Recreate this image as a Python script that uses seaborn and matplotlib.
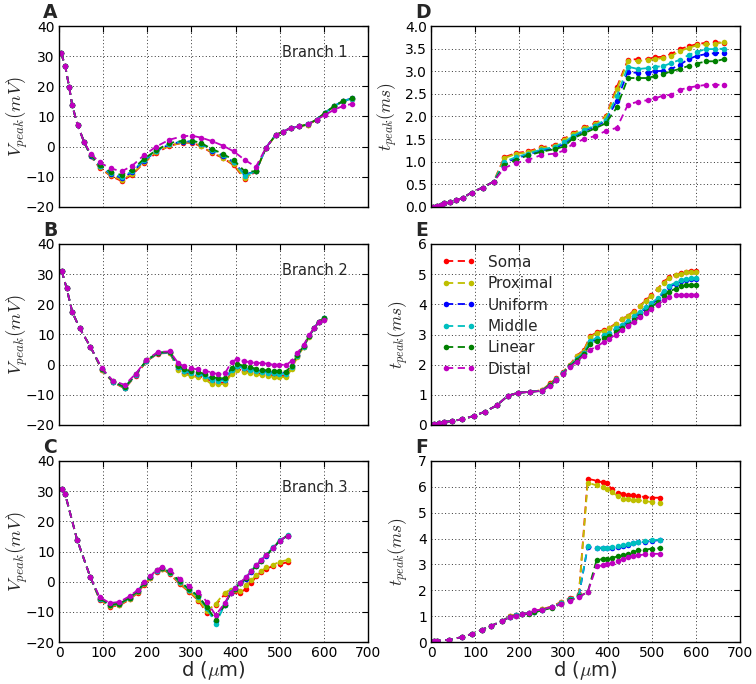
import pandas as pd
import matplotlib
matplotlib.use("Agg")
import matplotlib.pyplot as plt
import seaborn as sns

# ---------------- data ----------------
series_names = ["Soma", "Proximal", "Uniform", "Middle", "Linear", "Distal"]
series_colors = ["#ff0000", "#bfbf00", "#0000ff", "#00bfbf", "#008000", "#bf00bf"]

# Branch 1 (panels A, D)
b1_x = [5, 14, 23, 30, 42, 57, 72, 92, 117, 142, 166, 192, 220, 250, 281, 302, 322,
        347, 372, 396, 421, 446, 469, 491, 508, 525, 544, 563, 584, 602, 624, 644, 664]
a_head = [30.9, 26.8, 19.8, 13.7, 7.2, 1.5]
a_soma = a_head + [-3.2, -7.0, -9.7, -11.4, -9.3, -5.4, -2.1, 0.3, 1.3, 1.3, 0.1, -2.1, -3.8, -6.2, -10.8, -8.2, -0.4, 3.8, 5.0, 6.1, 6.7, 7.3, 8.9, 11.1, 13.4, 15.1, 15.8]
a_prox = a_head + [-3.1, -6.8, -9.5, -11.0, -9.0, -5.2, -1.9, 0.4, 1.4, 1.4, 0.3, -1.9, -3.6, -5.9, -10.4, -8.2, -0.4, 3.8, 5.0, 6.1, 6.7, 7.3, 8.9, 11.1, 13.4, 15.1, 15.8]
a_unif = a_head + [-3.0, -6.5, -9.0, -10.4, -8.4, -4.7, -1.6, 0.8, 1.7, 1.7, 0.8, -1.3, -3.0, -5.2, -9.2, -8.2, -0.3, 3.9, 5.0, 6.2, 6.7, 7.4, 9.0, 11.2, 13.5, 15.2, 16.0]
a_midd = a_head + [-2.9, -6.3, -8.8, -10.0, -8.1, -4.5, -1.5, 1.0, 1.8, 1.8, 0.9, -1.1, -2.8, -5.0, -9.6, -8.2, -0.3, 3.9, 5.0, 6.2, 6.7, 7.4, 9.0, 11.2, 13.5, 15.2, 15.9]
a_line = a_head + [-2.8, -6.0, -8.4, -9.4, -7.6, -4.1, -1.2, 1.2, 2.0, 2.0, 1.2, -0.8, -2.4, -4.5, -8.2, -8.2, -0.3, 3.9, 5.0, 6.2, 6.7, 7.4, 9.0, 11.2, 13.5, 15.2, 16.0]
a_dist = a_head + [-2.4, -5.2, -7.2, -8.2, -6.3, -2.9, 0.0, 2.3, 3.5, 3.6, 3.0, 1.8, 0.3, -1.6, -4.4, -6.7, -0.3, 3.9, 5.0, 6.2, 6.7, 7.4, 8.9, 10.5, 12.3, 13.5, 14.2]

d_head = [0.01, 0.03, 0.05, 0.08, 0.10, 0.15, 0.20, 0.32, 0.43, 0.56]
d_soma = d_head + [1.10, 1.19, 1.23, 1.32, 1.37, 1.51, 1.63, 1.76, 1.85, 2.00, 2.65, 3.25, 3.27, 3.27, 3.31, 3.32, 3.38, 3.49, 3.55, 3.60, 3.63, 3.64, 3.63]
d_prox = d_head + [1.08, 1.17, 1.21, 1.30, 1.35, 1.49, 1.61, 1.74, 1.83, 1.98, 2.60, 3.22, 3.23, 3.24, 3.27, 3.29, 3.34, 3.44, 3.52, 3.57, 3.60, 3.60, 3.65]
d_unif = d_head + [0.98, 1.07, 1.16, 1.25, 1.30, 1.40, 1.55, 1.68, 1.78, 1.90, 2.35, 2.99, 2.96, 2.97, 3.00, 3.01, 3.05, 3.14, 3.27, 3.34, 3.38, 3.40, 3.41]
d_midd = d_head + [1.00, 1.10, 1.18, 1.27, 1.33, 1.43, 1.57, 1.70, 1.80, 1.93, 2.45, 3.10, 3.05, 3.07, 3.10, 3.11, 3.18, 3.25, 3.36, 3.43, 3.49, 3.49, 3.50]
d_line = d_head + [0.92, 1.04, 1.14, 1.22, 1.28, 1.34, 1.52, 1.63, 1.74, 1.85, 2.20, 2.85, 2.85, 2.85, 2.90, 2.93, 3.00, 3.05, 3.12, 3.17, 3.22, 3.22, 3.27]
d_dist = d_head + [0.86, 0.97, 1.04, 1.15, 1.18, 1.25, 1.40, 1.50, 1.57, 1.68, 1.75, 2.26, 2.33, 2.36, 2.40, 2.46, 2.48, 2.59, 2.64, 2.67, 2.70, 2.70, 2.70]

# Branch 2 (panels B, E)
b2_x = [6, 17, 30, 47, 71, 97, 122, 149, 174, 198, 224, 251, 270, 284, 298, 315, 330, 346, 361,
        376, 391, 404, 418, 433, 446, 459, 473, 486, 499, 514, 527, 540, 554, 567, 578, 588, 600]
b_head = [31.1, 25.5, 17.5, 12.0, 6.0]
b_soma = b_head + [-1.8, -5.8, -7.9, -3.6, 1.1, 3.7, 3.9, -1.5, -2.7, -3.3, -3.8, -4.3, -5.6, -6.0, -6.0, -2.6, -1.4, -2.0, -2.4, -2.8, -3.1, -3.4, -3.6, -3.7, -3.8, -1.2, 2.8, 5.9, 9.4, 12.0, 14.0, 15.3]
b_prox = b_head + [-1.7, -5.7, -7.8, -3.5, 1.2, 3.8, 4.0, -1.8, -3.1, -3.7, -4.2, -4.8, -6.5, -6.5, -6.4, -3.0, -1.8, -2.4, -2.8, -3.2, -3.5, -3.8, -4.0, -4.1, -4.2, -1.5, 2.6, 5.8, 9.3, 12.0, 14.0, 15.3]
b_unif = b_head + [-1.5, -5.6, -7.6, -3.3, 1.3, 3.9, 4.1, -0.8, -2.0, -2.5, -3.0, -3.5, -4.8, -5.1, -5.0, -1.6, -0.3, -1.0, -1.4, -1.8, -2.1, -2.4, -2.6, -2.7, -2.8, -0.6, 3.1, 6.1, 9.5, 12.1, 14.1, 15.4]
b_midd = b_head + [-1.5, -5.6, -7.6, -3.3, 1.3, 3.9, 4.1, -0.9, -2.2, -2.8, -3.2, -3.8, -5.1, -5.4, -5.2, -1.8, -0.5, -1.2, -1.7, -2.1, -2.4, -2.7, -2.9, -3.0, -3.1, -0.7, 3.0, 6.0, 9.5, 12.1, 14.1, 15.4]
b_line = b_head + [-1.4, -5.5, -7.5, -3.2, 1.4, 4.0, 4.2, -0.3, -1.5, -2.0, -2.5, -3.0, -4.2, -4.5, -4.5, -1.0, 0.3, -0.4, -0.9, -1.3, -1.7, -1.9, -2.1, -2.2, -2.3, -0.3, 3.2, 6.2, 9.6, 12.2, 14.2, 15.5]
b_dist = b_head + [-1.2, -5.3, -6.7, -3.0, 1.6, 4.2, 4.4, 0.5, -0.6, -1.2, -1.6, -2.0, -2.6, -3.2, -2.9, 1.0, 1.8, 1.2, 0.8, 0.6, 0.5, 0.3, 0.0, 0.0, -0.1, 1.2, 3.9, 6.5, 9.8, 12.2, 14.0, 14.8]

e_head = [0.02, 0.05, 0.10, 0.13, 0.19, 0.30, 0.44, 0.65, 0.97, 1.07, 1.10]
e_soma = e_head + [1.15, 1.38, 1.55, 1.75, 2.00, 2.30, 2.48, 2.95, 3.07, 3.15, 3.22, 3.36, 3.52, 3.62, 3.78, 3.95, 4.13, 4.30, 4.52, 4.75, 4.90, 4.98, 5.04, 5.08, 5.10, 5.10]
e_prox = e_head + [1.15, 1.37, 1.54, 1.74, 1.98, 2.28, 2.45, 2.92, 3.05, 3.12, 3.20, 3.34, 3.50, 3.60, 3.76, 3.93, 4.11, 4.28, 4.50, 4.72, 4.87, 4.96, 5.02, 5.06, 5.08, 5.08]
e_unif = e_head + [1.14, 1.33, 1.50, 1.71, 1.96, 2.18, 2.38, 2.74, 2.86, 2.94, 3.01, 3.16, 3.29, 3.41, 3.56, 3.71, 3.86, 4.01, 4.16, 4.41, 4.58, 4.68, 4.76, 4.81, 4.83, 4.83]
e_midd = e_head + [1.14, 1.34, 1.51, 1.72, 1.97, 2.20, 2.40, 2.78, 2.90, 2.98, 3.05, 3.20, 3.33, 3.45, 3.60, 3.75, 3.90, 4.05, 4.20, 4.45, 4.62, 4.72, 4.80, 4.85, 4.87, 4.87]
e_line = e_head + [1.13, 1.33, 1.50, 1.70, 1.95, 2.15, 2.36, 2.68, 2.78, 2.88, 2.95, 3.08, 3.20, 3.32, 3.47, 3.60, 3.75, 3.90, 4.08, 4.28, 4.42, 4.52, 4.60, 4.63, 4.65, 4.65]
e_dist = e_head + [1.13, 1.30, 1.48, 1.68, 1.93, 2.10, 2.30, 2.50, 2.60, 2.75, 2.85, 3.00, 3.15, 3.28, 3.43, 3.58, 3.70, 3.85, 3.99, 4.15, 4.23, 4.30, 4.32, 4.32, 4.32, 4.32]

# Branch 3 (panels C, F)
b3_x = [6, 14, 41, 71, 92, 115, 137, 160, 179, 192, 207, 221, 234, 251, 273, 295, 316, 335,
        355, 375, 389, 399, 410, 424, 436, 447, 458, 470, 485, 500, 518]
c_head = [30.8, 29.0, 13.9, 1.5]
c_soma = c_head + [-6.0, -8.3, -7.9, -5.9, -3.6, -1.1, 1.1, 3.3, 4.2, 2.6, -0.7, -3.4, -6.3, -10.3, -7.8, -4.2, -3.0, -3.2, -3.7, -2.3, -0.4, 1.8, 3.3, 4.3, 5.2, 5.9, 6.4]
c_prox = c_head + [-5.9, -8.1, -7.7, -5.7, -3.4, -0.9, 1.3, 3.5, 4.3, 2.8, -0.5, -3.2, -6.0, -9.8, -7.3, -3.7, -2.6, -2.8, -3.0, -1.2, 0.5, 2.2, 3.6, 4.7, 5.6, 6.6, 7.2]
c_unif = c_head + [-5.6, -7.7, -7.4, -5.4, -3.1, -0.6, 1.5, 3.7, 4.5, 3.1, 0.0, -2.6, -4.9, -8.6, -13.0, -7.6, -3.7, -2.4, -0.6, 1.0, 3.3, 5.2, 6.9, 8.6, 11.1, 13.5, 15.3]
c_midd = c_head + [-5.6, -7.7, -7.4, -5.4, -3.1, -0.6, 1.5, 3.7, 4.5, 3.0, -0.1, -2.7, -5.0, -8.8, -13.9, -7.8, -3.5, -2.2, -0.4, 1.4, 3.7, 5.5, 7.3, 9.0, 11.4, 13.8, 15.4]
c_line = c_head + [-5.5, -7.6, -7.3, -5.3, -3.0, -0.5, 1.6, 3.8, 4.6, 3.2, 0.2, -2.5, -4.8, -8.5, -12.6, -7.8, -3.8, -2.4, -0.5, 1.2, 3.5, 5.3, 7.0, 8.7, 11.2, 13.6, 15.3]
c_dist = c_head + [-5.1, -7.1, -6.7, -4.8, -2.7, -0.1, 1.8, 4.0, 4.9, 3.8, 1.0, -1.4, -3.4, -6.7, -11.1, -7.2, -3.6, -2.2, -0.3, 1.5, 3.6, 5.4, 7.1, 8.8, 11.2, 13.6, 15.3]

f_head = [0.02, 0.04, 0.09, 0.19, 0.31, 0.47, 0.63, 0.80]
f_soma = f_head + [1.00, 1.05, 1.10, 1.13, 1.20, 1.27, 1.37, 1.55, 1.70, 1.85, 6.31, 6.24, 6.17, 6.13, 5.90, 5.77, 5.73, 5.69, 5.67, 5.63, 5.61, 5.58, 5.58]
f_prox = f_head + [0.99, 1.04, 1.09, 1.12, 1.19, 1.26, 1.36, 1.53, 1.68, 1.83, 6.16, 6.06, 5.99, 5.93, 5.80, 5.63, 5.54, 5.52, 5.50, 5.48, 5.45, 5.41, 5.39]
f_unif = f_head + [0.98, 1.03, 1.08, 1.11, 1.17, 1.24, 1.34, 1.50, 1.65, 1.79, 3.68, 3.63, 3.63, 3.63, 3.65, 3.68, 3.72, 3.76, 3.81, 3.85, 3.87, 3.91, 3.94]
f_midd = f_head + [0.98, 1.03, 1.08, 1.11, 1.17, 1.24, 1.34, 1.50, 1.65, 1.80, 3.70, 3.65, 3.65, 3.65, 3.67, 3.70, 3.74, 3.78, 3.83, 3.87, 3.89, 3.93, 3.96]
f_line = f_head + [0.97, 1.02, 1.07, 1.10, 1.15, 1.22, 1.32, 1.47, 1.62, 1.76, 1.93, 3.16, 3.21, 3.21, 3.26, 3.31, 3.35, 3.41, 3.48, 3.54, 3.57, 3.61, 3.63]
f_dist = f_head + [0.96, 1.02, 1.08, 1.12, 1.22, 1.25, 1.35, 1.46, 1.60, 1.74, 1.93, 2.93, 2.96, 3.00, 3.05, 3.13, 3.22, 3.29, 3.32, 3.35, 3.39, 3.41, 3.41]

x_ticks = [0, 100, 200, 300, 400, 500, 600, 700]

# ---------------- style ----------------
sns.set_style("white")
plt.rcParams["font.family"] = ["DejaVu Sans"]
plt.rcParams["mathtext.fontset"] = "cm"
plt.rcParams["xtick.direction"] = "in"
plt.rcParams["ytick.direction"] = "in"


def long_frame(x, values):
    frames = []
    for name, vals in zip(series_names, values):
        frames.append(pd.DataFrame({"d": x, "val": vals, "series": name}))
    return pd.concat(frames, ignore_index=True)


fig = plt.figure(figsize=(7.56, 6.84), dpi=100)
W, H = 756.0, 684.0
col_left = [59, 431]
row_top = [26, 244, 461]
ax_w, ax_h = 309, 181

panels = [
    ("A", 0, 0, b1_x, [a_soma, a_prox, a_unif, a_midd, a_line, a_dist], "V", "Branch 1"),
    ("B", 0, 1, b2_x, [b_soma, b_prox, b_unif, b_midd, b_line, b_dist], "V", "Branch 2"),
    ("C", 0, 2, b3_x, [c_soma, c_prox, c_unif, c_midd, c_line, c_dist], "V", "Branch 3"),
    ("D", 1, 0, b1_x, [d_soma, d_prox, d_unif, d_midd, d_line, d_dist], "T4", None),
    ("E", 1, 1, b2_x, [e_soma, e_prox, e_unif, e_midd, e_line, e_dist], "T6", None),
    ("F", 1, 2, b3_x, [f_soma, f_prox, f_unif, f_midd, f_line, f_dist], "T7", None),
]

palette = dict(zip(series_names, series_colors))

for letter, col, row, x, vals, kind, branch in panels:
    left = col_left[col] / W
    bottom = 1 - (row_top[row] + ax_h) / H
    ax = fig.add_axes([left, bottom, ax_w / W, ax_h / H])
    df = long_frame(x, vals)
    sns.lineplot(data=df, x="d", y="val", hue="series", hue_order=series_names,
                 palette=palette, marker="o", markersize=4, markeredgewidth=0,
                 linestyle=(0, (4, 2.5)), linewidth=1.3, errorbar=None,
                 legend=False, ax=ax)
    ax.set_xlim(0, 700)
    ax.set_xticks(x_ticks)
    if kind == "V":
        ax.set_ylim(-20, 40)
        ax.set_yticks([-20, -10, 0, 10, 20, 30, 40])
        ax.set_ylabel(r"$V_{peak}(mV)$", fontsize=13.5)
        ax.yaxis.set_label_coords(-0.095, 0.5)
    elif kind == "T4":
        ax.set_ylim(0, 4)
        ax.set_yticks([0.0, 0.5, 1.0, 1.5, 2.0, 2.5, 3.0, 3.5, 4.0])
        ax.set_ylabel(r"$t_{peak}(ms)$", fontsize=12.5)
        ax.yaxis.set_label_coords(-0.10, 0.5)
    elif kind == "T6":
        ax.set_ylim(0, 6)
        ax.set_yticks([0, 1, 2, 3, 4, 5, 6])
        ax.set_ylabel(r"$t_{peak}(ms)$", fontsize=12.5)
        ax.yaxis.set_label_coords(-0.065, 0.5)
    else:
        ax.set_ylim(0, 7)
        ax.set_yticks([0, 1, 2, 3, 4, 5, 6, 7])
        ax.set_ylabel(r"$t_{peak}(ms)$", fontsize=12.5)
        ax.yaxis.set_label_coords(-0.065, 0.5)
    if row == 2:
        ax.set_xlabel(r"d ($\mu$m)", fontsize=14, labelpad=-1)
    else:
        ax.set_xlabel("")
        ax.set_xticklabels([])
    ax.grid(True, linestyle=(0, (1, 2.5)), color="0.2", linewidth=0.7)
    ax.tick_params(axis="both", which="major", labelsize=10, length=4, width=0.8,
                   top=True, right=True, direction="in", colors="black", pad=3)
    for sp in ax.spines.values():
        sp.set_color("black")
        sp.set_linewidth(1.0)
    if branch:
        ax.text(0.935, 0.855, branch, transform=ax.transAxes, ha="right", va="center",
                fontsize=10.5)
    fig.text((col_left[col] - 16) / W, 1 - (row_top[row] - 23) / H, letter,
             ha="left", va="top", fontsize=13.5, fontweight="bold")
    if letter == "E":
        handles = ax.get_lines()[:6]
        ax.legend(handles, series_names, loc="upper left", numpoints=2, frameon=False,
                  fontsize=11, handlelength=2.2, labelspacing=0.42,
                  borderaxespad=0.3, handletextpad=0.8)

fig.savefig("out.png", dpi=100)
